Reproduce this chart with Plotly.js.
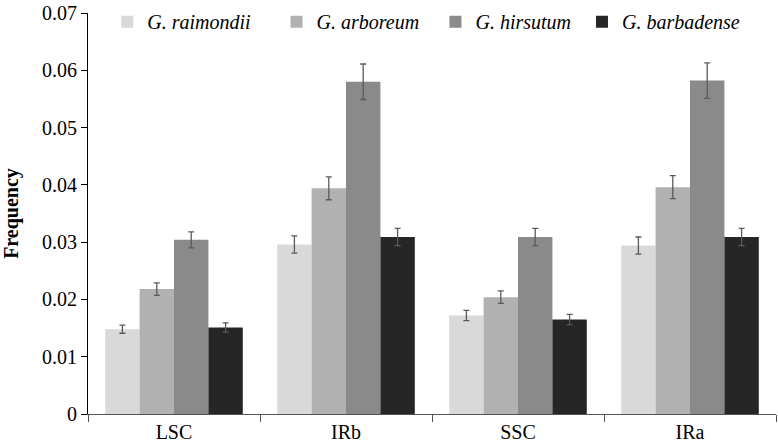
<!DOCTYPE html>
<html>
<head>
<meta charset="utf-8">
<script src="https://cdn.plot.ly/plotly-3.0.1.min.js"></script>
<style>
  body { margin: 0; background: #fff; }
  #chart { width: 778px; height: 445px; }
</style>
</head>
<body>
<div id="chart"></div>
<script>
// regions of the chloroplast genome
var regions = ["LSC", "IRb", "SSC", "IRa"];

// species names (legend)
var species = ["G. raimondii", "G. arboreum", "G. hirsutum", "G. barbadense"];

// mean frequency per region, one array per species
var raimondii = [0.0148, 0.0296, 0.0172, 0.0294];
var arboreum = [0.0218, 0.0394, 0.0204, 0.0396];
var hirsutum = [0.0304, 0.0580, 0.0309, 0.0582];
var barbadense = [0.0151, 0.0309, 0.0165, 0.0309];

// error bar half widths
var raimondiiErr = [0.0007, 0.0015, 0.0009, 0.0015];
var arboreumErr = [0.0011, 0.0020, 0.0011, 0.0020];
var hirsutumErr = [0.0014, 0.0031, 0.0015, 0.0031];
var barbadenseErr = [0.0008, 0.0015, 0.0009, 0.0015];

var barColors = ["#d9d9d9", "#b1b1b1", "#8a8a8a", "#262626"];

var serif = "'Liberation Serif', 'Times New Roman', serif";

// one legend per species so each entry sits where it does in the figure
var legendIds = ["legend", "legend2", "legend3", "legend4"];
var legendX = [0.028, 0.274, 0.505, 0.718];

function makeBar(i, values, errs) {
  return {
    type: "bar",
    name: "<i>" + species[i] + "</i>",
    legend: legendIds[i],
    x: regions,
    y: values,
    marker: { color: barColors[i], line: { width: 0 } },
    error_y: {
      type: "data",
      array: errs,
      visible: true,
      color: "#5a5a5a",
      thickness: 1.3,
      width: 3
    }
  };
}

var data = [
  makeBar(0, raimondii, raimondiiErr),
  makeBar(1, arboreum, arboreumErr),
  makeBar(2, hirsutum, hirsutumErr),
  makeBar(3, barbadense, barbadenseErr)
];

function legendBox(x) {
  return {
    orientation: "h",
    x: x,
    xanchor: "left",
    y: 1.027,
    yanchor: "top",
    font: { family: serif, size: 20, color: "#000" },
    bgcolor: "rgba(0,0,0,0)"
  };
}

var layout = {
  width: 778,
  height: 445,
  margin: { l: 88, r: 2, t: 11, b: 31 },
  paper_bgcolor: "#fff",
  plot_bgcolor: "#fff",
  barmode: "group",
  bargap: 0.2,
  bargroupgap: 0,
  font: { family: serif, size: 20, color: "#000" },
  showlegend: true,
  legend: legendBox(legendX[0]),
  legend2: legendBox(legendX[1]),
  legend3: legendBox(legendX[2]),
  legend4: legendBox(legendX[3]),
  xaxis: {
    showline: true,
    linecolor: "#555",
    linewidth: 1.3,
    ticks: "outside",
    tickson: "boundaries",
    ticklen: 7,
    tickcolor: "#555",
    showgrid: false,
    zeroline: false,
    ticklabeloverflow: "allow",
    tickfont: { family: serif, size: 20 }
  },
  yaxis: {
    range: [0, 0.07],
    tick0: 0,
    dtick: 0.01,
    showline: true,
    linecolor: "#000",
    linewidth: 1,
    ticks: "outside",
    ticklen: 6,
    tickcolor: "#000",
    showgrid: false,
    zeroline: false,
    ticklabeloverflow: "allow",
    tickfont: { family: serif, size: 20 },
    title: { text: "<b>Frequency</b>", font: { family: serif, size: 20 }, standoff: 20 }
  }
};

Plotly.newPlot("chart", data, layout, { displayModeBar: false, staticPlot: true });
</script>
</body>
</html>
